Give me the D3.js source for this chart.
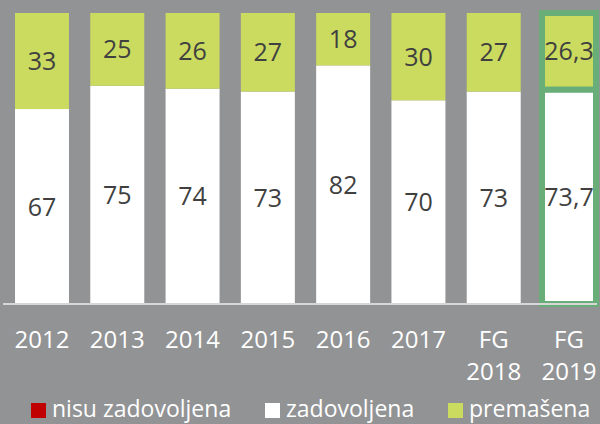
<!DOCTYPE html>
<html>
<head>
<meta charset="utf-8">
<script src="https://cdn.jsdelivr.net/npm/d3@7"></script>
<style>
  html, body { margin: 0; padding: 0; background: #929395; }
  svg { display: block; font-family: "Open Sans", sans-serif; }
</style>
</head>
<body>
<svg id="chart" width="600" height="424"></svg>
<script>
// data
var categories = ["2012", "2013", "2014", "2015", "2016", "2017", "FG 2018", "FG 2019"];
var zadovoljena = [67, 75, 74, 73, 82, 70, 73, 73.7];
var premasena = [33, 25, 26, 27, 18, 30, 27, 26.3];
var legendLabels = ["nisu zadovoljena", "zadovoljena", "premašena"];
var legendColors = ["#c00000", "#ffffff", "#cbdb5f"];
var highlighted = "FG 2019";

var svg = d3.select("#chart");

var x = d3.scaleBand()
    .domain(categories)
    .range([15, 596])
    .paddingInner(0.283)
    .paddingOuter(0);

var y = d3.scaleLinear()
    .domain([0, 100])
    .range([304, 13]);

var fmt = function(v) { return String(v).replace(".", ","); };

// stack the two series
var keys = ["zadovoljena", "premasena"];
var values = { zadovoljena: zadovoljena, premasena: premasena };
var rows = categories.map(function(c, i) {
    return { cat: c, i: i, zadovoljena: zadovoljena[i], premasena: premasena[i] };
});
var series = d3.stack().keys(keys)(rows);
var colors = { zadovoljena: "#ffffff", premasena: "#cbdb5f" };

var g = svg.append("g");

series.forEach(function(s) {
    g.append("g").attr("class", s.key)
        .selectAll("rect")
        .data(s)
        .enter().append("rect")
        .attr("x", function(d) { return x(d.data.cat); })
        .attr("width", x.bandwidth())
        .attr("y", function(d) { return y(d[1]); })
        .attr("height", function(d) { return y(d[0]) - y(d[1]); })
        .style("fill", colors[s.key])
        .style("stroke", function(d) { return d.data.cat == highlighted ? "#69ad78" : "none"; })
        .style("stroke-width", 6);
});

// axis line
svg.append("line")
    .attr("x1", 3).attr("x2", 597)
    .attr("y1", y(0)).attr("y2", y(0))
    .style("stroke", "#d6d6d6")
    .style("stroke-width", 2);

// value labels
series.forEach(function(s) {
    g.append("g").selectAll("text")
        .data(s)
        .enter().append("text")
        .attr("x", function(d) { return x(d.data.cat) + x.bandwidth() / 2; })
        .attr("y", function(d) { return (y(d[0]) + y(d[1])) / 2; })
        .attr("dy", "0.36em")
        .attr("text-anchor", "middle")
        .style("font-size", "25px")
        .style("fill", "#404040")
        .text(function(d) { return fmt(values[s.key][d.data.i]); });
});

// category labels
var labels = svg.append("g").selectAll("text")
    .data(categories)
    .enter().append("text")
    .attr("text-anchor", "middle")
    .attr("y", 348)
    .style("font-size", "24px")
    .style("fill", "#ffffff");

labels.each(function(c) {
    var parts = c.split(" ");
    var t = d3.select(this);
    parts.forEach(function(p, i) {
        t.append("tspan")
            .attr("x", x(c) + x.bandwidth() / 2)
            .attr("dy", i == 0 ? 0 : 32)
            .text(p);
    });
});

// legend
var legendX = [31, 265, 448];
var leg = svg.append("g").selectAll("g")
    .data(legendLabels)
    .enter().append("g")
    .attr("transform", function(d, i) { return "translate(" + legendX[i] + ",403)"; });

leg.append("rect")
    .attr("width", 15).attr("height", 15)
    .style("fill", function(d, i) { return legendColors[i]; });

leg.append("text")
    .attr("x", 21)
    .attr("y", 14)
    .style("font-size", "23px")
    .style("fill", "#ffffff")
    .text(function(d) { return d; });
</script>
</body>
</html>
